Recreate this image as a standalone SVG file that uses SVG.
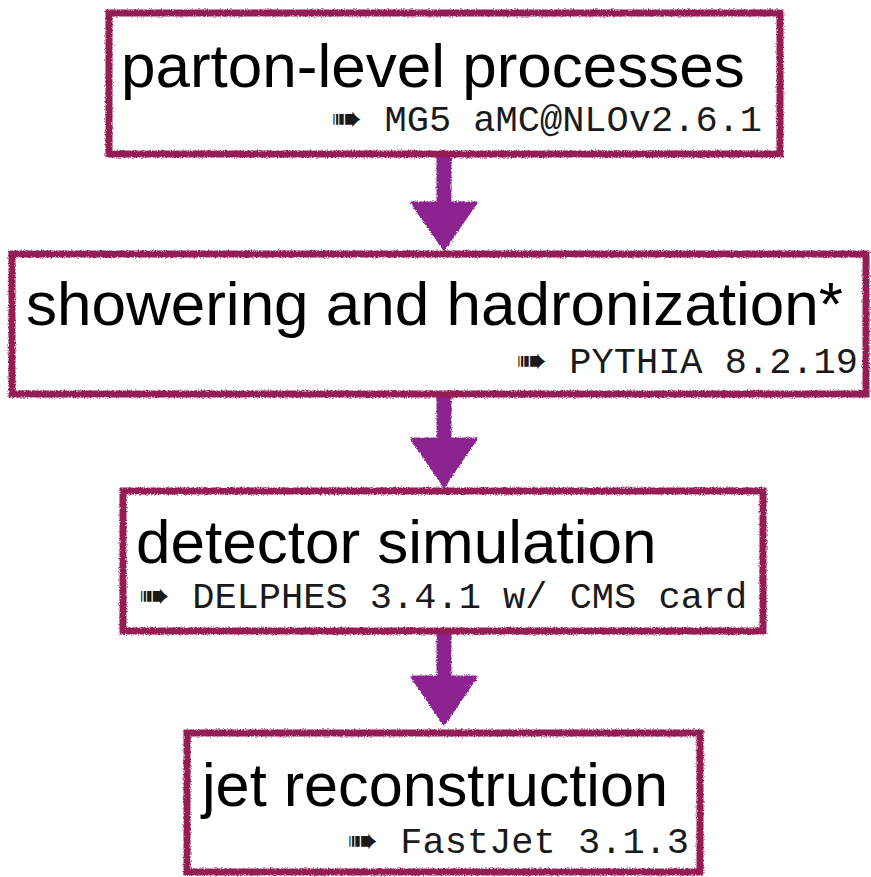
<svg xmlns="http://www.w3.org/2000/svg" width="871" height="877" viewBox="0 0 871 877">
  <style>
    .box { fill: #ffffff; stroke: #961b56; stroke-width: 7; filter: url(#crayon); }
    .title { font-family: "Liberation Sans", Arial, sans-serif; font-size: 62px; fill: #000000; }
    .tool { font-family: "Liberation Mono", "DejaVu Sans", monospace; font-size: 37px; fill: #1a1a1a; }
    .flow { fill: #8d2391; stroke: #8d2391; stroke-width: 3; stroke-linejoin: round; filter: url(#crayon); }
  </style>
  <defs>
    <!-- rough crayon edge for boxes and arrows -->
    <filter id="crayon" x="-10%" y="-10%" width="120%" height="120%">
      <feTurbulence type="fractalNoise" baseFrequency="0.7" numOctaves="2" seed="3" result="noise"/>
      <feDisplacementMap in="SourceGraphic" in2="noise" scale="3.5" xChannelSelector="R" yChannelSelector="G"/>
    </filter>
  </defs>

  <g id="connectors">
    <path class="flow" d="M438,156 L450,156 L450,203 L476,203 L444,249 L412,203 L438,203 Z"/>
    <path class="flow" d="M438,396 L450,396 L450,439 L476,439 L444,486 L412,439 L438,439 Z"/>
    <path class="flow" d="M438,633 L450,633 L450,677 L476,677 L444,724 L412,677 L438,677 Z"/>
  </g>

  <g id="parton-level">
    <rect class="box" x="109" y="13" width="671" height="141"/>
    <text class="title" x="121" y="87">parton-level processes</text>
    <text class="tool" x="762" y="131" text-anchor="end">➠ MG5 aMC@NLOv2.6.1</text>
  </g>

  <g id="showering">
    <rect class="box" x="12" y="254" width="854" height="140"/>
    <text class="title" x="26" y="325">showering and hadronization*</text>
    <text class="tool" x="858" y="373" text-anchor="end">➠ PYTHIA 8.2.19</text>
  </g>

  <g id="detector">
    <rect class="box" x="123" y="491" width="640" height="140"/>
    <text class="title" x="136" y="563">detector simulation</text>
    <text class="tool" x="139" y="608">➠ DELPHES 3.4.1 w/ CMS card</text>
  </g>

  <g id="jets">
    <rect class="box" x="187" y="733" width="513" height="139"/>
    <text class="title" x="202" y="806" textLength="466" lengthAdjust="spacingAndGlyphs">jet reconstruction</text>
    <text class="tool" x="689" y="853" text-anchor="end">➠ FastJet 3.1.3</text>
  </g>
</svg>
